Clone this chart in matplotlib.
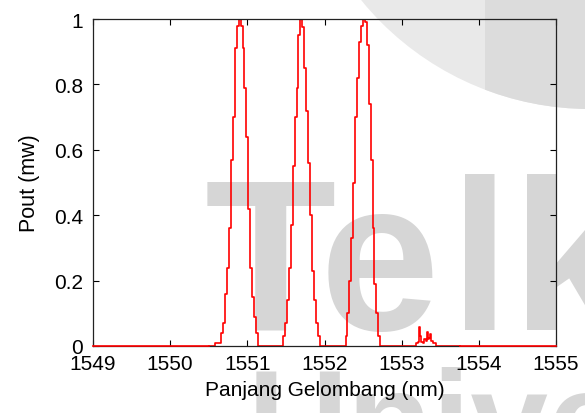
import matplotlib
matplotlib.use('Agg')
import matplotlib.pyplot as plt
import matplotlib.patches as patches
from matplotlib.transforms import IdentityTransform
import numpy as np

# wavelength (nm) and output power (mW)
peak1_nm = [1550.650, 1550.675, 1550.700, 1550.725, 1550.750, 1550.775, 1550.800,
            1550.825, 1550.850, 1550.875, 1550.900, 1550.925, 1550.950, 1550.975,
            1551.000, 1551.025, 1551.050, 1551.075, 1551.100, 1551.125, 1551.150]
peak1_mw = [0.01, 0.04, 0.07, 0.16, 0.24, 0.36, 0.57, 0.70, 0.91, 0.98, 1.00,
            0.98, 0.91, 0.79, 0.64, 0.42, 0.24, 0.15, 0.09, 0.04, 0.0]

peak2_nm = [1551.450, 1551.475, 1551.500, 1551.525, 1551.550, 1551.575, 1551.600,
            1551.625, 1551.650, 1551.675, 1551.700, 1551.725, 1551.750, 1551.775,
            1551.800, 1551.825, 1551.850, 1551.875, 1551.900, 1551.925, 1551.950]
peak2_mw = [0.0, 0.03, 0.07, 0.14, 0.24, 0.37, 0.55, 0.70, 0.79, 0.95, 1.00,
            0.975, 0.85, 0.72, 0.56, 0.40, 0.23, 0.14, 0.07, 0.03, 0.0]

peak3_nm = [1552.260, 1552.285, 1552.310, 1552.335, 1552.360, 1552.385, 1552.410,
            1552.435, 1552.460, 1552.485, 1552.510, 1552.535, 1552.560, 1552.585,
            1552.610, 1552.635, 1552.660, 1552.685, 1552.710, 1552.735]
peak3_mw = [0.0, 0.03, 0.10, 0.20, 0.33, 0.50, 0.70, 0.82, 0.93, 0.98, 1.00,
            0.99, 0.92, 0.74, 0.57, 0.36, 0.19, 0.10, 0.03, 0.0]

ripple_nm = [1553.180, 1553.200, 1553.220, 1553.235, 1553.245, 1553.260, 1553.280,
             1553.300, 1553.320, 1553.335, 1553.345, 1553.360, 1553.375, 1553.390,
             1553.410, 1553.430, 1553.450]
ripple_mw = [0.0, 0.01, 0.012, 0.058, 0.03, 0.012, 0.01, 0.02, 0.015, 0.044,
             0.02, 0.025, 0.037, 0.015, 0.01, 0.01, 0.0]

data_start = [1550.5]
data_end = [1553.75]
left_zero_nm = [1549.0, 1550.5]
right_zero_nm = [1553.75, 1555.0]

x_ticks = [1549, 1550, 1551, 1552, 1553, 1554, 1555]
y_ticks = [0, 0.2, 0.4, 0.6, 0.8, 1]
y_ticklabels = ['0', '0.2', '0.4', '0.6', '0.8', '1']

W, H = 585, 414
FONT = 'Liberation Sans'
fig = plt.figure(figsize=(W / 100, H / 100), dpi=100)
fig.patch.set_facecolor('white')


def fx(px):
    return px / W


def fy(py):
    return 1 - py / H


# watermark behind the plot (pixel coordinates, origin bottom-left)
circ = patches.Circle((590, H + 185), radius=295, transform=IdentityTransform(),
                      facecolor='#e9e9e9', edgecolor='none', zorder=0)
fig.patches.append(circ)
band = patches.Rectangle((485, 0), 200, H, transform=IdentityTransform(),
                         facecolor='#dcdcdc', edgecolor='none', zorder=0.1)
band.set_clip_path(circ)
fig.patches.append(band)

wm = dict(color='#d6d6d6', fontsize=155, fontweight='bold', family=FONT,
          va='baseline', ha='left', zorder=0.2)
fig.text(fx(205), fy(330), 'T', **wm)
fig.text(fx(320), fy(330), 'e', **wm)
fig.text(fx(450), fy(330), 'l', **wm)
fig.text(fx(512), fy(330), 'k', **wm)
wm2 = dict(wm)
wm2['fontsize'] = 100
fig.text(fx(248), fy(468), 'Unive', **wm2)

ax = fig.add_axes([fx(93), fy(347), (556 - 93) / W, (347 - 20) / H])
ax.set_facecolor('none')
ax.set_zorder(1)

curve_nm = np.concatenate([data_start, peak1_nm, peak2_nm, peak3_nm, ripple_nm, data_end])
curve_mw = np.concatenate([[0], peak1_mw, peak2_mw, peak3_mw, ripple_mw, [0]])
ax.plot(curve_nm, curve_mw, color='red', lw=1.2, drawstyle='steps-mid', zorder=2)
ax.plot(left_zero_nm, [0, 0], color='red', lw=1.2, zorder=3, clip_on=False)
ax.plot(right_zero_nm, [0, 0], color='red', lw=1.2, zorder=3, clip_on=False)

ax.set_xlim(1549, 1555)
ax.set_ylim(0, 1)
ax.set_xticks(x_ticks)
ax.set_yticks(y_ticks)
ax.set_yticklabels(y_ticklabels)
ax.tick_params(direction='in', top=True, right=True, length=4, width=0.8,
               labelsize=15)
ax.tick_params(axis='x', pad=6)
ax.tick_params(axis='y', pad=7)
for lab in ax.get_xticklabels() + ax.get_yticklabels():
    lab.set_family(FONT)
for s in ax.spines.values():
    s.set_linewidth(0.9)
    s.set_color('#222222')

ax.set_xlabel('Panjang Gelombang (nm)', fontsize=15, family=FONT, labelpad=5)
ax.set_ylabel('Pout (mw)', fontsize=15.5, family=FONT, labelpad=10)

fig.savefig('out.png', dpi=100)
